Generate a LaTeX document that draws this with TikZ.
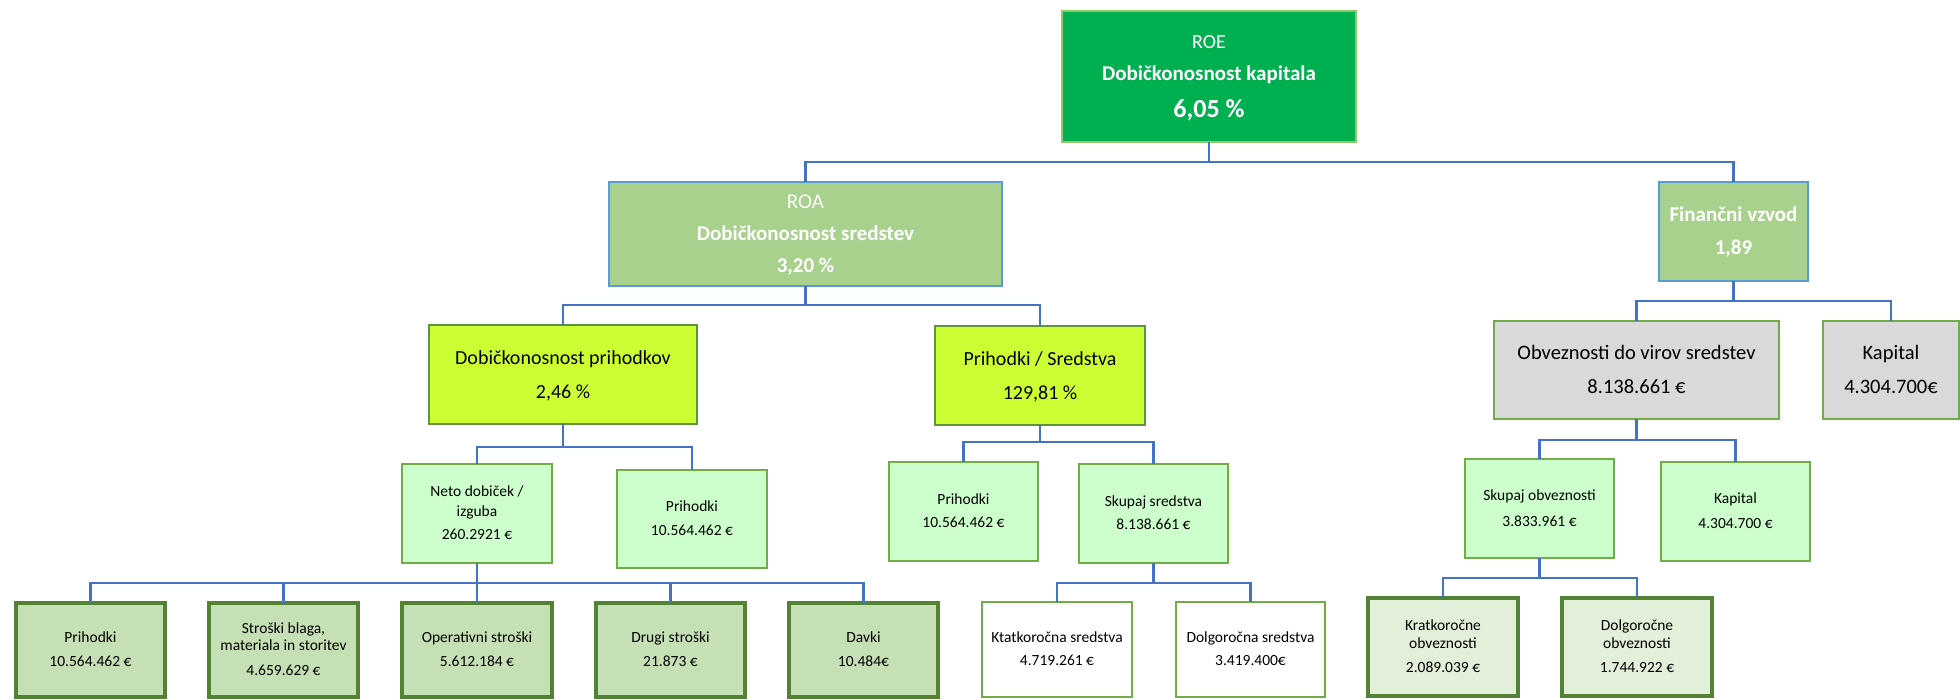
\documentclass[tikz,border=0pt]{standalone}
\usepackage{fontspec}
\setmainfont{Carlito}
\usetikzlibrary{calc}
\definecolor{roeg}{HTML}{00B050}
\definecolor{roeb}{HTML}{92C76A}
\definecolor{roag}{HTML}{A9D18E}
\definecolor{bluebd}{HTML}{5B9BD5}
\definecolor{limef}{HTML}{CCFF33}
\definecolor{grayf}{HTML}{D9D9D9}
\definecolor{mintf}{HTML}{CCFFCC}
\definecolor{sagef}{HTML}{C5E0B4}
\definecolor{palef}{HTML}{E2F0D9}
\definecolor{gbd}{HTML}{70AD47}
\definecolor{dgbd}{HTML}{548235}
\definecolor{connc}{HTML}{4472C4}
\newcommand{\boxlines}[1]{\begin{tabular}{@{}c@{}}#1\end{tabular}}
\tikzset{
  nbox/.style={rectangle, inner sep=0pt, outer sep=0pt, text=black},
  roebox/.style={nbox, fill=roeg, draw=roeb, line width=1.5pt, text=white},
  roabox/.style={nbox, fill=roag, draw=bluebd, line width=1.5pt, text=white},
  limebox/.style={nbox, fill=limef, draw=gbd!85!black, line width=1.5pt, font=\fontsize{20}{34}\selectfont},
  graybox/.style={nbox, fill=grayf, draw=gbd, line width=1.5pt, font=\fontsize{20.5}{34}\selectfont},
  mintbox/.style={nbox, fill=mintf, draw=gbd, line width=2pt, font=\fontsize{15.5}{23.5}\selectfont},
  sagebox/.style={nbox, fill=sagef, draw=dgbd, line width=3.5pt, font=\fontsize{15.5}{23.5}\selectfont},
  whitebox/.style={nbox, fill=white, draw=gbd, line width=1.5pt, font=\fontsize{15.5}{23.5}\selectfont},
  palebox/.style={nbox, fill=palef, draw=dgbd, line width=3.5pt, font=\fontsize{15.5}{23.5}\selectfont},
  link/.style={draw=connc, line width=2.5pt},
  sz/.style 2 args={minimum width=#1pt, minimum height=#2pt},
}
\begin{document}
\begin{tikzpicture}[x=1pt,y=-1pt]
\fill[white] (0,0) rectangle (1960,699);
\useasboundingbox (0,0) rectangle (1960,699);

% level 0
\node[roebox, sz={294}{131}, font=\fontsize{20}{32}\selectfont] (roe) at (1209,76.5)
  {\boxlines{ROE\\
   \fontsize{21}{32}\selectfont\bfseries Dobičkonosnost kapitala\\[4.5pt]
   \fontsize{26}{32}\selectfont\bfseries 6,05 \%}};

% level 1
\node[roabox, sz={393}{104}, font=\fontsize{21}{32}\selectfont] (roa) at (805.5,234)
  {\boxlines{ROA\\
   \bfseries Dobičkonosnost sredstev\\
   \bfseries 3,20 \%}};
\node[roabox, sz={149}{99}, font=\fontsize{21}{33}\selectfont\bfseries] (fin) at (1733.5,231.5)
  {\boxlines{Finančni vzvod\\ 1,89}};

% level 2
\node[limebox, sz={268}{99}] (dobp) at (563,374.5)
  {\boxlines{Dobičkonosnost prihodkov\\ 2,46 \%}};
\node[limebox, sz={210}{99}] (ps) at (1040,375.5)
  {\boxlines{Prihodki / Sredstva\\ 129,81 \%}};
\node[graybox, sz={285}{98}] (obv) at (1636.5,370)
  {\boxlines{Obveznosti do virov sredstev\\ 8.138.661 €}};
\node[graybox, sz={136}{98}] (kapg) at (1891,370)
  {\boxlines{Kapital\\ 4.304.700€}};

% level 3
\node[mintbox, sz={150}{99}] (neto) at (477,513.5)
  {\boxlines{Neto dobiček /\\[-4pt] izguba\\ 260.2921 €}};
\node[mintbox, sz={150}{98}] (pri1) at (692,519)
  {\boxlines{Prihodki\\ 10.564.462 €}};
\node[mintbox, sz={149}{99}] (pri2) at (963.5,511.5)
  {\boxlines{Prihodki\\ 10.564.462 €}};
\node[mintbox, sz={149}{99}] (sks) at (1153.5,513.5)
  {\boxlines{Skupaj sredstva\\ 8.138.661 €}};
\node[mintbox, sz={149}{99}] (sko) at (1539.5,508.5)
  {\boxlines{Skupaj obveznosti\\[2.5pt] 3.833.961 €}};
\node[mintbox, sz={149}{99}] (kapl) at (1735.5,511.5)
  {\boxlines{Kapital\\[1.5pt] 4.304.700 €}};

% level 4
\node[sagebox, sz={149}{94}] (b1) at (90.5,650)
  {\boxlines{Prihodki\\ 10.564.462 €}};
\node[sagebox, sz={149}{94}] (b2) at (283.5,650)
  {\boxlines{Stroški blaga,\\[-6.5pt] materiala in storitev\\[1.5pt] 4.659.629 €}};
\node[sagebox, sz={150}{94}] (b3) at (477,650)
  {\boxlines{Operativni stroški\\ 5.612.184 €}};
\node[sagebox, sz={149}{94}] (b4) at (670.5,650)
  {\boxlines{Drugi stroški\\ 21.873 €}};
\node[sagebox, sz={149}{94}] (b5) at (863.5,650)
  {\boxlines{Davki\\ 10.484€}};
\node[whitebox, sz={150}{95}] (kt) at (1057,649.5)
  {\boxlines{Ktatkoročna sredstva\\ 4.719.261 €}};
\node[whitebox, sz={149}{95}] (dg) at (1250.5,649.5)
  {\boxlines{Dolgoročna sredstva\\ 3.419.400€}};
\node[palebox, sz={150}{98}] (kro) at (1443,647)
  {\boxlines{Kratkoročne\\[-5.5pt] obveznosti\\[0.5pt] 2.089.039 €}};
\node[palebox, sz={150}{98}] (dgo) at (1637,647)
  {\boxlines{Dolgoročne\\[-5.5pt] obveznosti\\[0.5pt] 1.744.922 €}};

% connectors
\draw[link] (roe.south) -- ++(0,20) -| (roa.north);
\draw[link] (roe.south) -- ++(0,20) -| (fin.north);
\draw[link] (roa.south) -- ++(0,19) -| (dobp.north);
\draw[link] (roa.south) -- ++(0,19) -| (ps.north);
\draw[link] (fin.south) -- ++(0,20) -| (obv.north);
\draw[link] (fin.south) -- ++(0,20) -| (kapg.north);
\draw[link] (dobp.south) -- ++(0,23) -| (neto.north);
\draw[link] (dobp.south) -- ++(0,23) -| (pri1.north);
\draw[link] (ps.south) -- ++(0,17) -| (pri2.north);
\draw[link] (ps.south) -- ++(0,17) -| (sks.north);
\draw[link] (obv.south) -- ++(0,21) -| (sko.north);
\draw[link] (obv.south) -- ++(0,21) -| (kapl.north);
\foreach \c in {b1,b2,b3,b4,b5}
  \draw[link] (neto.south) -- ++(0,20) -| (\c.north);
\draw[link] (sks.south) -- ++(0,20) -| (kt.north);
\draw[link] (sks.south) -- ++(0,20) -| (dg.north);
\draw[link] (sko.south) -- ++(0,20) -| (kro.north);
\draw[link] (sko.south) -- ++(0,20) -| (dgo.north);
\end{tikzpicture}
\end{document}
